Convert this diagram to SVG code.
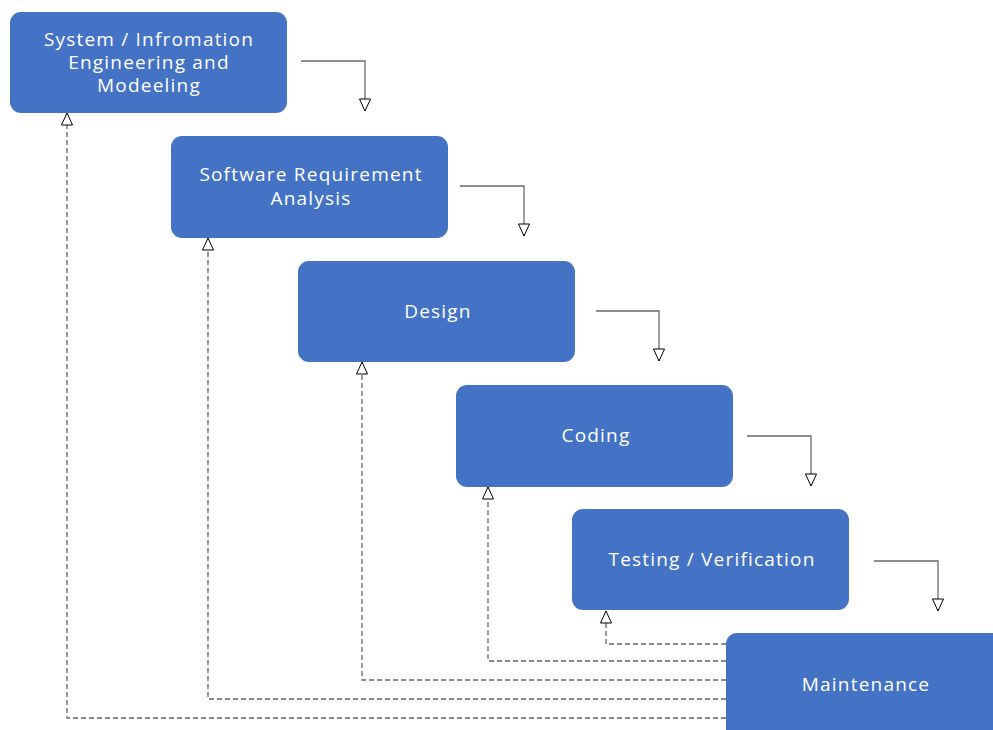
<svg xmlns="http://www.w3.org/2000/svg" width="993" height="730" viewBox="0 0 993 730">
<style>
.box{fill:#4472C4;}
.lbl{fill:#ffffff;font-family:"Open Sans","Noto Sans",sans-serif;font-size:19px;letter-spacing:1.2px;text-anchor:middle;dominant-baseline:central;}
.solid{fill:none;stroke:#6a6a6a;stroke-width:1.3;marker-end:url(#tri);}
.dash{fill:none;stroke:#666666;stroke-width:1.3;stroke-dasharray:5 3;marker-end:url(#tri);}
</style>
<defs>
<marker id="tri" markerUnits="userSpaceOnUse" markerWidth="14" markerHeight="13" refX="12" refY="5.5" orient="auto" overflow="visible">
<path d="M0,0 L12,5.5 L0,11 Z" fill="#ffffff" stroke="#000000" stroke-width="1" stroke-dasharray="none"/>
</marker>
</defs>
<rect width="993" height="730" fill="#ffffff"/>
<g id="connectors">
<path class="solid" d="M301,61 H365 V111"/>
<path class="solid" d="M460,186 H524 V236"/>
<path class="solid" d="M596,311 H659 V361"/>
<path class="solid" d="M747,436 H811 V486"/>
<path class="solid" d="M874,561 H938 V611"/>
<path class="dash" d="M726,644 H606 V611"/>
<path class="dash" d="M726,661 H488 V487"/>
<path class="dash" d="M726,680 H362 V362"/>
<path class="dash" d="M726,699 H208 V238"/>
<path class="dash" d="M726,718 H67 V113"/>
</g>
<g id="node-system">
<rect class="box" x="10" y="12" width="277" height="101" rx="11"/>
<text class="lbl" x="149" y="39">System / Infromation</text>
<text class="lbl" x="149" y="62">Engineering and</text>
<text class="lbl" x="149" y="85">Modeeling</text>
</g>
<g id="node-requirement">
<rect class="box" x="171" y="136" width="277" height="102" rx="11"/>
<text class="lbl" x="311" y="174">Software Requirement</text>
<text class="lbl" x="311" y="198">Analysis</text>
</g>
<g id="node-design">
<rect class="box" x="298" y="261" width="277" height="101" rx="11"/>
<text class="lbl" x="438" y="311">Design</text>
</g>
<g id="node-coding">
<rect class="box" x="456" y="385" width="277" height="102" rx="11"/>
<text class="lbl" x="596" y="435">Coding</text>
</g>
<g id="node-testing">
<rect class="box" x="572" y="509" width="277" height="101" rx="11"/>
<text class="lbl" x="712" y="559">Testing / Verification</text>
</g>
<g id="node-maintenance">
<rect class="box" x="726" y="633" width="290" height="110" rx="11"/>
<text class="lbl" x="866" y="684">Maintenance</text>
</g>
</svg>
